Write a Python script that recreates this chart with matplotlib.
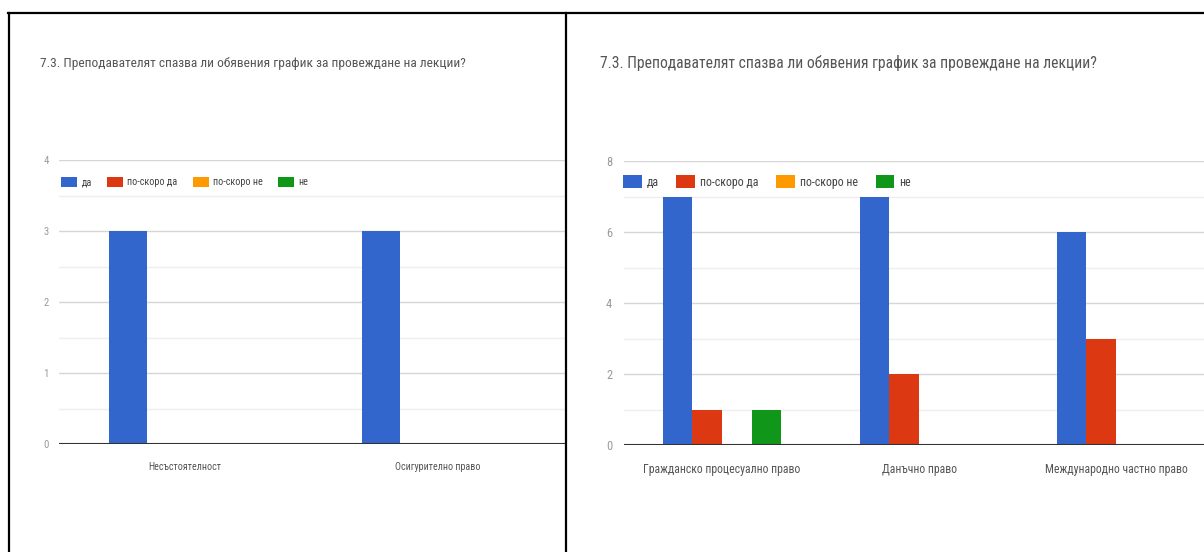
import matplotlib
matplotlib.use("Agg")
import matplotlib.pyplot as plt
import numpy as np
from matplotlib import font_manager
from matplotlib.lines import Line2D

# data
title = "7.3. Преподавателят спазва ли обявения график за провеждане на лекции?"
series_names = ["да", "по-скоро да", "по-скоро не", "не"]
series_colors = ["#3366cc", "#dc3912", "#ff9900", "#109618"]

left_categories = ["Несъстоятелност", "Осигурително право"]
left_da = [3, 3]
left_po_skoro_da = [0, 0]
left_po_skoro_ne = [0, 0]
left_ne = [0, 0]
left_yticks = [0, 1, 2, 3, 4]

right_categories = ["Гражданско процесуално право", "Данъчно право", "Международно частно право"]
right_da = [7, 7, 6]
right_po_skoro_da = [1, 2, 3]
right_po_skoro_ne = [0, 0, 0]
right_ne = [1, 0, 0]
right_yticks = [0, 2, 4, 6, 8]

# the screenshot text is narrow; use a condensed face if one is installed
fonts = font_manager.fontManager.ttflist
names = {f.name for f in fonts}
family = None
for cand in ["Roboto Condensed", "Liberation Sans Narrow", "Open Sans Condensed", "DejaVu Sans Condensed"]:
    if cand in names:
        family = cand
        break
if family is None:
    family = "DejaVu Sans"
    if any(f.name == "DejaVu Sans" and f.stretch in ("condensed", "semi-condensed") for f in fonts):
        plt.rcParams['font.stretch'] = 'condensed'
plt.rcParams['font.family'] = [family, 'DejaVu Sans']

W, H = 1204, 552
fig = plt.figure(figsize=(W / 100, H / 100), dpi=100)
renderer = fig.canvas.get_renderer()

# pick the title size so the left title is ~425 px wide, like the reference
probe = fig.text(0, 0, title, fontsize=10)
base = 10 * 425 / probe.get_window_extent(renderer).width
probe.remove()


def px_rect(x0, x1, ytop, ybot):
    return [x0 / W, 1 - ybot / H, (x1 - x0) / W, (ybot - ytop) / H]


def draw_chart(rect, cats, series, yticks, scale, title_xy, legend_xy):
    ax = fig.add_axes(rect)
    n = len(cats)
    x = np.arange(n)
    w = 0.15
    for i, (vals, name, col) in enumerate(zip(series, series_names, series_colors)):
        ax.bar(x + (i - 1.5) * w, vals, width=w, color=col, label=name, zorder=3)
    ax.set_xlim(-0.5, n - 0.5)
    ax.set_ylim(yticks[0], yticks[-1])
    ax.set_yticks(yticks)
    step = yticks[1] - yticks[0]
    ax.set_yticks(np.arange(yticks[0] + step / 2, yticks[-1], step), minor=True)
    ax.grid(axis='y', which='major', color='#d6d6d6', lw=1, zorder=0)
    ax.grid(axis='y', which='minor', color='#eeeeee', lw=1, zorder=0)
    fs_title = base * scale
    fs_small = base * 0.76 * scale
    ax.set_xticks(x)
    ax.set_xticklabels(cats, fontsize=base * 0.75 * scale, color='#555555')
    ax.tick_params(axis='x', length=0, pad=13)
    ax.tick_params(axis='y', which='both', length=0, labelsize=base * 0.8 * scale,
                   labelcolor='#9a9a9a', pad=7 * scale)
    for s in ax.spines.values():
        s.set_visible(False)
    ax.axhline(0, color='#333333', lw=1.5, zorder=4)
    fig.text(title_xy[0] / W, 1 - title_xy[1] / H, title, fontsize=fs_title,
             color='#555555', ha='left', va='center')
    fpx = fs_small * 100 / 72
    ax.legend(loc='center left', bbox_to_anchor=(legend_xy[0] / W, 1 - legend_xy[1] / H),
              bbox_transform=fig.transFigure, ncol=4, frameon=False,
              fontsize=fs_small, handlelength=16 * scale / fpx, handleheight=13 * scale / fpx,
              handletextpad=4.5 * scale / fpx, columnspacing=15 * scale / fpx,
              borderpad=0, borderaxespad=0, labelcolor='#444444')
    return ax


draw_chart(px_rect(58.5, 564.5, 160, 444), left_categories,
           [left_da, left_po_skoro_da, left_po_skoro_ne, left_ne], left_yticks,
           1.0, (40, 63), (61, 182))
draw_chart(px_rect(623.5, 1214.5, 161, 445), right_categories,
           [right_da, right_po_skoro_da, right_po_skoro_ne, right_ne], right_yticks,
           1.165, (600, 63), (623, 182))

# page borders
for xs, ys in [([8, W], [13, 13]), ([8.5, 8.5], [13, H]), ([566, 566], [13, H])]:
    fig.add_artist(Line2D([v / W for v in xs], [1 - v / H for v in ys],
                          transform=fig.transFigure, color='black', lw=1.6))

fig.savefig("out.png", dpi=100, facecolor='white')
